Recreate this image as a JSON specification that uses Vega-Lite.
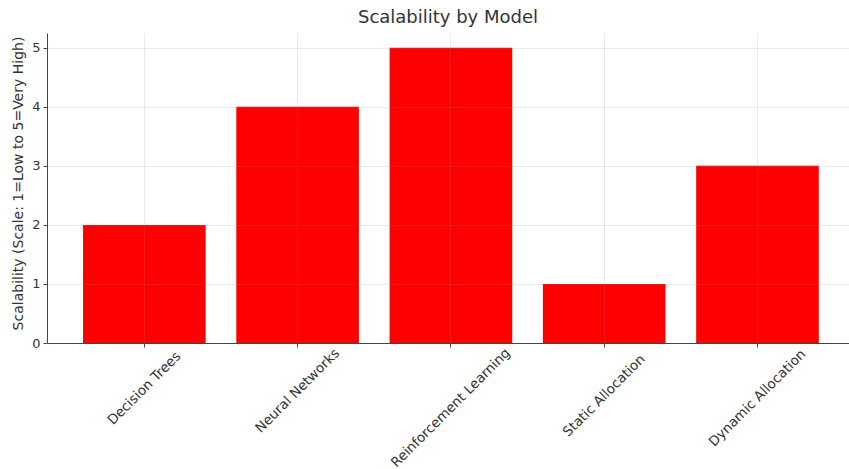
{
  "$schema": "https://vega.github.io/schema/vega-lite/v6.json",
  "autosize": "none",
  "width": 802,
  "height": 310,
  "padding": {"left": 47, "top": 33, "right": 0, "bottom": 126},
  "background": "white",
  "config": {
    "font": "DejaVu Sans",
    "view": {"stroke": null}
  },
  "title": {
    "text": "Scalability by Model",
    "fontSize": 18,
    "fontWeight": "normal",
    "color": "#333333",
    "offset": 6,
    "anchor": "middle"
  },
  "data": {
    "values": [
      {"model": "Decision Trees", "scalability": 2},
      {"model": "Neural Networks", "scalability": 4},
      {"model": "Reinforcement Learning", "scalability": 5},
      {"model": "Static Allocation", "scalability": 1},
      {"model": "Dynamic Allocation", "scalability": 3}
    ]
  },
  "encoding": {
    "x": {
      "field": "model",
      "type": "nominal",
      "sort": null,
      "scale": {"paddingInner": 0.2, "paddingOuter": 0.216, "align": 0.544},
      "axis": {
        "title": null,
        "labels": false,
        "zindex": 1,
        "grid": true,
        "gridColor": "#8d8d8d",
        "gridOpacity": 0.18,
        "domainColor": "#444444",
        "tickColor": "#444444",
        "tickSize": 4
      }
    }
  },
  "layer": [
    {
      "mark": {"type": "bar", "color": "#ff0000"},
      "encoding": {
        "y": {
          "field": "scalability",
          "type": "quantitative",
          "scale": {"domain": [0, 5.25], "nice": false},
          "axis": {
            "title": "Scalability (Scale: 1=Low to 5=Very High)",
            "titleFontSize": 14,
            "titleFontWeight": "normal",
            "titleColor": "#333333",
            "titlePadding": 6,
            "titleY": 150,
            "values": [0, 1, 2, 3, 4, 5],
            "format": "d",
            "zindex": 1,
            "grid": true,
            "gridColor": "#8d8d8d",
            "gridOpacity": 0.18,
            "domainColor": "#444444",
            "tickColor": "#444444",
            "tickSize": 4,
            "labelPadding": 3,
            "labelFontSize": 13,
            "labelColor": "#333333"
          }
        }
      }
    },
    {
      "mark": {
        "type": "text",
        "angle": 315,
        "align": "center",
        "baseline": "middle",
        "fontSize": 13.5,
        "color": "#333333",
        "dx": {"expr": "-(4.2 + (length(datum.model) * 13.5 * 0.51 + 15.5) / 4)"},
        "dy": {"expr": "4.2 + (length(datum.model) * 13.5 * 0.51 + 15.5) / 4"}
      },
      "encoding": {
        "y": {"datum": 0, "type": "quantitative"},
        "text": {"field": "model"}
      }
    }
  ]
}
